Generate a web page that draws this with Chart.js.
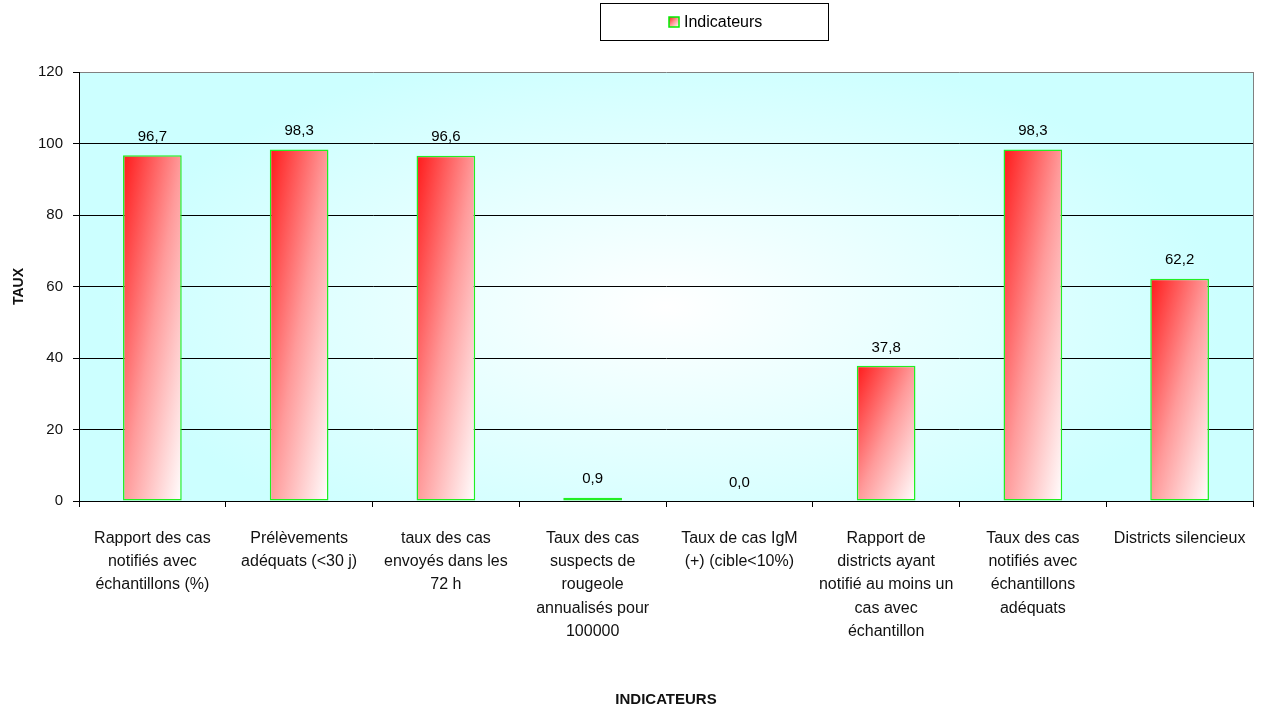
<!DOCTYPE html>
<html>
<head>
<meta charset="utf-8">
<script src="https://cdn.jsdelivr.net/npm/chart.js@4.4.1/dist/chart.umd.min.js"></script>
<style>
  html, body { margin: 0; padding: 0; background: #fff; }
  #wrap { width: 1263px; height: 712px; position: relative; }
</style>
</head>
<body>
<div id="wrap"><canvas id="chart"></canvas></div>
<script>
// Data
const categories = [
  ["Rapport des cas", "notifiés avec", "échantillons (%)"],
  ["Prélèvements", "adéquats (<30 j)"],
  ["taux des cas", "envoyés dans les", "72 h"],
  ["Taux des cas", "suspects de", "rougeole", "annualisés pour", "100000"],
  ["Taux de cas IgM", "(+) (cible<10%)"],
  ["Rapport de", "districts ayant", "notifié au moins un", "cas avec", "échantillon"],
  ["Taux des cas", "notifiés avec", "échantillons", "adéquats"],
  ["Districts silencieux"]
];
const values = [96.7, 98.3, 96.6, 0.9, 0.0, 37.8, 98.3, 62.2];
const yTicks = [0, 20, 40, 60, 80, 100, 120];
const seriesName = "Indicateurs";
const xTitle = "INDICATEURS";
const yTitle = "TAUX";

const FONT = "'Liberation Sans', Arial, sans-serif";
const BAR_PCT = 0.4;

// diagonal red -> white gradient, 45 degrees in the bar's own box
const diagGradient = (ctx2d, left, top, w, h) => {
  const k = 2 * w * h / (w * w + h * h);
  const g = ctx2d.createLinearGradient(left, top, left + h * k, top + w * k);
  g.addColorStop(0, "#ff1a1a");
  g.addColorStop(0.5, "#ff9a9a");
  g.addColorStop(1, "#ffffff");
  return g;
};

const barFill = (ctx) => {
  const chart = ctx.chart;
  const xs = chart.scales.x, ys = chart.scales.y;
  if (!xs || !ys || !chart.chartArea || ctx.type !== "data") return "#ff8080";
  const v = values[ctx.dataIndex];
  const w = xs.width / categories.length * BAR_PCT;
  const left = xs.getPixelForValue(ctx.dataIndex) - w / 2;
  const top = ys.getPixelForValue(v);
  const h = Math.max(ys.getPixelForValue(0) - top, 1);
  if (![w, left, top, h].every(Number.isFinite) || w <= 0) return "#ff8080";
  return diagGradient(chart.ctx, left, top, w, h);
};

// cyan plot background, lighter towards the middle
const plotBackground = {
  id: "plotBackground",
  beforeDraw(chart) {
    const { ctx, chartArea: a } = chart;
    const cx = (a.left + a.right) / 2, cy = (a.top + a.bottom) / 2 + 20;
    const rx = (a.right - a.left) / 2;
    const sy = (a.bottom - a.top) / (a.right - a.left);
    ctx.save();
    ctx.beginPath();
    ctx.rect(a.left, a.top, a.right - a.left, a.bottom - a.top);
    ctx.clip();
    ctx.translate(cx, cy);
    ctx.scale(1, sy * 1.3);
    const g = ctx.createRadialGradient(0, 0, 0, 0, 0, rx * 0.95);
    g.addColorStop(0, "#ffffff");
    g.addColorStop(0.25, "#f2ffff");
    g.addColorStop(1, "#ccffff");
    ctx.fillStyle = g;
    ctx.fillRect(-rx * 2, -rx * 2, rx * 4, rx * 4);
    ctx.restore();
  },
  afterDraw(chart) {
    const { ctx, chartArea: a } = chart;
    ctx.save();
    ctx.strokeStyle = "#808080";
    ctx.lineWidth = 1;
    ctx.beginPath();
    ctx.moveTo(Math.round(a.right) + 0.5, a.top);
    ctx.lineTo(Math.round(a.right) + 0.5, a.bottom);
    ctx.stroke();
    ctx.restore();
  }
};

// value labels above bars, French decimal comma
const valueLabels = {
  id: "valueLabels",
  afterDatasetsDraw(chart) {
    const { ctx } = chart;
    const meta = chart.getDatasetMeta(0);
    ctx.save();
    ctx.font = "15px " + FONT;
    ctx.fillStyle = "#000";
    ctx.textAlign = "center";
    ctx.textBaseline = "bottom";
    meta.data.forEach((bar, i) => {
      ctx.fillText(values[i].toFixed(1).replace(".", ","), bar.x, bar.y - 11);
    });
    ctx.restore();
  }
};

// boxed legend at the top
const boxLegend = {
  id: "boxLegend",
  afterDraw(chart) {
    const { ctx } = chart;
    const bx = 600.5, by = 3.5, bw = 228, bh = 37;
    ctx.save();
    ctx.fillStyle = "#fff";
    ctx.fillRect(bx, by, bw, bh);
    ctx.strokeStyle = "#000";
    ctx.lineWidth = 1;
    ctx.strokeRect(bx, by, bw, bh);
    const sx = 669, sy = 17, ss = 10;
    ctx.fillStyle = diagGradient(ctx, sx, sy, ss, ss);
    ctx.fillRect(sx, sy, ss, ss);
    ctx.strokeStyle = "#00ee00";
    ctx.lineWidth = 1.5;
    ctx.strokeRect(sx, sy, ss, ss);
    ctx.font = "16px " + FONT;
    ctx.fillStyle = "#000";
    ctx.textBaseline = "middle";
    ctx.textAlign = "left";
    ctx.fillText(seriesName, 684, 23);
    ctx.restore();
  }
};

new Chart(document.getElementById("chart"), {
  type: "bar",
  data: {
    labels: categories,
    datasets: [{
      label: seriesName,
      data: values,
      backgroundColor: barFill,
      borderColor: "#22ee22",
      borderWidth: 1.5,
      borderSkipped: false,
      barPercentage: BAR_PCT,
      categoryPercentage: 1
    }]
  },
  options: {
    responsive: true,
    maintainAspectRatio: false,
    animation: false,
    layout: { padding: { top: 72, right: 10, left: 0, bottom: 0 } },
    plugins: {
      legend: { display: false },
      tooltip: { enabled: false }
    },
    scales: {
      x: {
        grid: {
          offset: true,
          drawOnChartArea: false,
          drawTicks: true,
          tickLength: 6,
          tickColor: "#000"
        },
        border: { display: true, color: "#000", width: 1 },
        ticks: {
          color: "#111",
          font: { family: FONT, size: 16, lineHeight: 1.45 },
          padding: 20,
          maxRotation: 0,
          autoSkip: false
        },
        title: {
          display: true,
          text: xTitle,
          color: "#111",
          font: { family: FONT, size: 15, weight: "bold" },
          padding: { top: 0, bottom: 3 }
        },
        afterFit: (s) => {
          s.height = 211;
          s.paddingLeft = 0;
          s.paddingRight = 0;
        }
      },
      y: {
        min: 0,
        max: 120,
        afterBuildTicks: (s) => { s.ticks = yTicks.map(v => ({ value: v })); },
        grid: {
          color: (c) => c.tick && c.tick.value === 120 ? "#808080" : "#000",
          lineWidth: 1,
          drawTicks: true,
          tickLength: 6,
          tickColor: "#000"
        },
        border: { display: true, color: "#000", width: 1 },
        ticks: {
          color: "#111",
          font: { family: FONT, size: 15 },
          padding: 10
        },
        title: {
          display: true,
          text: yTitle,
          color: "#111",
          font: { family: FONT, size: 14, weight: "bold" },
          padding: { top: 11, bottom: 0 }
        },
        afterFit: (s) => { s.width = 79; }
      }
    }
  },
  plugins: [plotBackground, valueLabels, boxLegend]
});
</script>
</body>
</html>
